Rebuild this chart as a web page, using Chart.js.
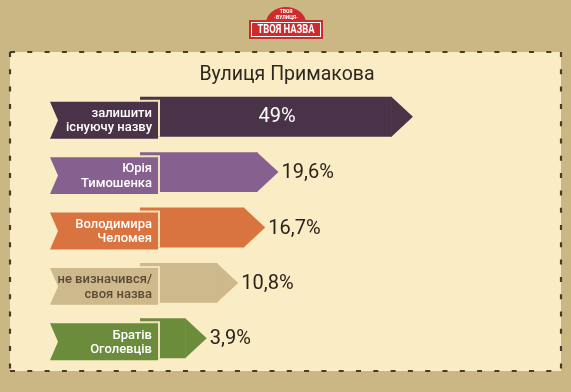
<!DOCTYPE html>
<html>
<head>
<meta charset="utf-8">
<script src="https://cdn.jsdelivr.net/npm/chart.js@4"></script>
<style>
  html, body { margin: 0; padding: 0; background: #cab784; }
  #wrap { width: 571px; height: 392px; }
</style>
</head>
<body>
<div id="wrap"><canvas id="chart" width="571" height="392"></canvas></div>
<script>
// data
const chartTitle = 'Вулиця Примакова';
const options = [
  ['залишити', 'існуючу назву'],
  ['Юрія', 'Тимошенка'],
  ['Володимира', 'Челомея'],
  ['не визначився/', 'своя назва'],
  ['Братів', 'Оголевців']
];
const shares = [49, 19.6, 16.7, 10.8, 3.9];
const shareLabels = ['49%', '19,6%', '16,7%', '10,8%', '3,9%'];

const barColors = ['#4a3349', '#86608f', '#d9733f', '#cdb98b', '#6b8c3a'];
const boxTextColors = ['#ffffff', '#ffffff', '#ffffff', '#5a4a36', '#ffffff'];

const FONT = 'Roboto, "Open Sans", sans-serif';
const TIP = 21;
const BOX_L = 50, BOX_R = 158, NOTCH = 8;

function drawLogo(ctx) {
  ctx.save();
  // arch
  ctx.fillStyle = '#cf2a2c';
  ctx.beginPath();
  ctx.ellipse(286, 23, 20, 16, 0, Math.PI, 0);
  ctx.fill();
  // plate
  ctx.fillRect(249, 20, 74, 19);
  ctx.strokeStyle = '#ffffff';
  ctx.lineWidth = 1;
  ctx.strokeRect(251.5, 22.5, 69, 14);
  ctx.fillStyle = '#ffffff';
  ctx.textAlign = 'center';
  ctx.textBaseline = 'middle';
  ctx.font = 'bold 5px ' + FONT;
  ctx.fillText('ТВОЯ', 286, 12);
  ctx.fillText('-ВУЛИЦЯ-', 286, 17.5);
  // condensed plate text
  ctx.translate(286, 30);
  ctx.scale(0.72, 1);
  ctx.font = 'bold 13px ' + FONT;
  ctx.fillText('ТВОЯ НАЗВА', 0, 0);
  ctx.restore();
}

const decor = {
  id: 'decor',
  beforeDraw(chart) {
    const ctx = chart.ctx;
    ctx.save();
    ctx.fillStyle = '#cab784';
    ctx.fillRect(0, 0, chart.width, chart.height);
    // panel
    ctx.fillStyle = '#faedc5';
    ctx.fillRect(10, 52, 551, 319);
    // dashed frame
    ctx.strokeStyle = '#4b3a28';
    ctx.lineWidth = 2.2;
    ctx.setLineDash([5, 12.3]);
    ctx.beginPath();
    ctx.moveTo(10, 52); ctx.lineTo(562, 52);
    ctx.moveTo(10, 371); ctx.lineTo(562, 371);
    ctx.moveTo(10, 52); ctx.lineTo(10, 371);
    ctx.moveTo(561, 52); ctx.lineTo(561, 371);
    ctx.stroke();
    ctx.setLineDash([]);
    drawLogo(ctx);
    // title
    ctx.fillStyle = '#2e2620';
    ctx.font = '19.5px ' + FONT;
    ctx.textAlign = 'center';
    ctx.textBaseline = 'middle';
    ctx.fillText(chartTitle, 287, 75);
    ctx.restore();
  },
  afterDatasetsDraw(chart) {
    const ctx = chart.ctx;
    const meta = chart.getDatasetMeta(0);
    ctx.save();
    meta.data.forEach((bar, i) => {
      const p = bar.getProps(['x', 'y', 'height'], true);
      const top = p.y - p.height / 2, bottom = p.y + p.height / 2;
      // arrow tip
      ctx.fillStyle = barColors[i];
      ctx.beginPath();
      ctx.moveTo(p.x - 0.5, top);
      ctx.lineTo(p.x + TIP, p.y);
      ctx.lineTo(p.x - 0.5, bottom);
      ctx.closePath();
      ctx.fill();
      // label box (ribbon tail)
      const bt = top + 5, bb = bottom + 2, bm = (bt + bb) / 2;
      ctx.beginPath();
      ctx.moveTo(BOX_L, bt);
      ctx.lineTo(BOX_R, bt);
      ctx.lineTo(BOX_R, bb);
      ctx.lineTo(BOX_L, bb);
      ctx.lineTo(BOX_L + NOTCH, bm);
      ctx.closePath();
      ctx.fill();
      ctx.strokeStyle = '#f3e3bb';
      ctx.lineWidth = 2;
      ctx.beginPath();
      ctx.moveTo(139, bt - 1);
      ctx.lineTo(BOX_R + 1, bt - 1);
      ctx.lineTo(BOX_R + 1, bottom);
      ctx.stroke();
      // label text
      ctx.fillStyle = boxTextColors[i];
      ctx.font = '500 13px ' + FONT;
      ctx.textAlign = 'right';
      ctx.textBaseline = 'middle';
      ctx.fillText(options[i][0], BOX_R - 6, bm - 6.5);
      ctx.fillText(options[i][1], BOX_R - 6, bm + 8);
      // value
      ctx.font = '20px ' + FONT;
      if (i === 0) {
        ctx.fillStyle = '#ffffff';
        ctx.textAlign = 'center';
        ctx.fillText(shareLabels[i], (BOX_R + p.x) / 2 + 2, p.y);
      } else {
        ctx.fillStyle = '#2a221c';
        ctx.textAlign = 'left';
        ctx.fillText(shareLabels[i], p.x + TIP + 3, p.y + 1);
      }
    });
    ctx.restore();
  }
};

new Chart(document.getElementById('chart').getContext('2d'), {
  type: 'bar',
  data: {
    labels: options.map(o => o.join(' ')),
    datasets: [{
      data: shares,
      base: -6.1,
      backgroundColor: barColors,
      borderWidth: 0,
      barPercentage: 0.9,
      categoryPercentage: 0.8
    }]
  },
  options: {
    indexAxis: 'y',
    responsive: false,
    animation: false,
    devicePixelRatio: 1,
    layout: { padding: { left: 140, right: 41, top: 89, bottom: 26 } },
    scales: {
      x: { display: false, min: -6.1, max: 79.2 },
      y: { display: false }
    },
    plugins: {
      legend: { display: false },
      tooltip: { enabled: false }
    }
  },
  plugins: [decor]
});
</script>
</body>
</html>
